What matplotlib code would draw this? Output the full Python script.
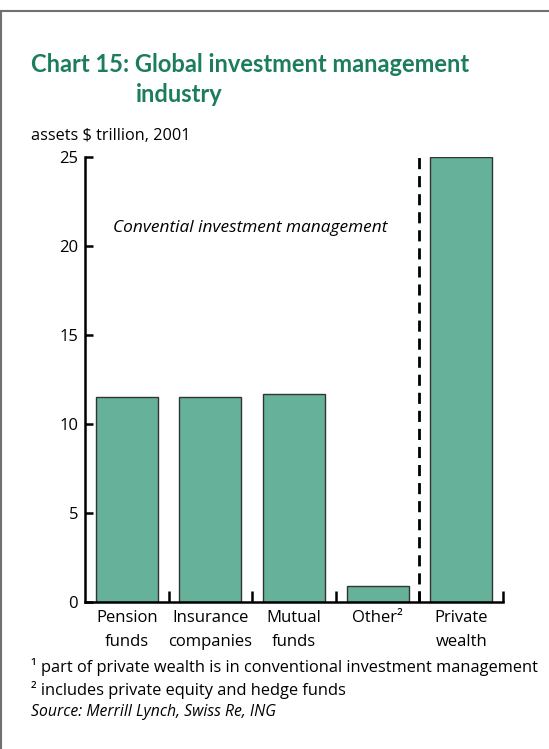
import numpy as np
import matplotlib
matplotlib.use("Agg")
import matplotlib.pyplot as plt
from matplotlib.lines import Line2D

# assets in $ trillion, 2001
categories = ["Pension\nfunds", "Insurance\ncompanies", "Mutual\nfunds", "Other²", "Private\nwealth"]
assets = [11.5, 11.5, 11.7, 0.9, 25.0]
yticks = [0, 5, 10, 15, 20, 25]

plt.rcParams['font.family'] = ['Open Sans', 'DejaVu Sans']

fig = plt.figure(figsize=(5.49, 7.49), dpi=100)
renderer = fig.canvas.get_renderer()


def fit_width(txt, px):
    # scale the font so the text spans about px pixels
    w = txt.get_window_extent(renderer).width
    txt.set_fontsize(txt.get_fontsize() * px / w)


# frame lines (top and left edge)
fig.add_artist(Line2D([0.002, 1.0], [1 - 11 / 749, 1 - 11 / 749], color='#707070', lw=1.5))
fig.add_artist(Line2D([0.002, 0.002], [0.0, 1 - 11 / 749], color='#707070', lw=1.5))

ax = fig.add_axes([85 / 549, 1 - 602 / 749, (503 - 85) / 549, (602 - 157) / 749])

x = np.arange(len(assets)) + 0.5
ax.bar(x, assets, width=0.74, color='#66b19a', edgecolor='#333333', linewidth=1.0, zorder=2)

# boundary between conventional management and private wealth
ax.plot([4, 4], [0, 25], color='black', lw=2, dashes=(4, 2.5), zorder=3)

ax.set_xlim(0, 5)
ax.set_ylim(0, 25)
for s in ['top', 'right']:
    ax.spines[s].set_visible(False)
for s in ['left', 'bottom']:
    ax.spines[s].set_linewidth(1.8)

ax.set_yticks(yticks)
ax.tick_params(axis='y', direction='in', length=6, width=1.8, labelsize=12, pad=5)

ax.set_xticks([1, 2, 3, 4, 5])
ax.set_xticklabels([])
ax.tick_params(axis='x', which='major', direction='in', length=8, width=1.8)
ax.set_xticks(x, minor=True)
ax.set_xticklabels(categories, minor=True, fontsize=12, linespacing=1.6)
ax.tick_params(axis='x', which='minor', length=0, pad=6)

note = ax.text(1.98, 21.0, "Convential investment management", style='italic',
               fontsize=12, ha='center', va='center')
fit_width(note, 274)

green = '#1b7d5a'
t1 = fig.text(31 / 549, 1 - 65 / 749, "Chart 15: Global investment management",
              fontsize=17, fontweight='bold', color=green, va='center', ha='left',
              family=['Lato', 'DejaVu Sans'])
fit_width(t1, 438)
fig.text(136 / 549, 1 - 95 / 749, "industry",
         fontsize=t1.get_fontsize(), fontweight='bold', color=green, va='center', ha='left',
         family=['Lato', 'DejaVu Sans'])
fig.text(31 / 549, 1 - 136 / 749, "assets $ trillion, 2001", fontsize=11.7, va='center')

f1 = fig.text(31 / 549, 1 - 667 / 749, "¹ part of private wealth is in conventional investment management",
              fontsize=11.5, va='center')
fit_width(f1, 509)
fig.text(31 / 549, 1 - 690 / 749, "² includes private equity and hedge funds",
         fontsize=f1.get_fontsize(), va='center')
fig.text(31 / 549, 1 - 712 / 749, "Source: Merrill Lynch, Swiss Re, ING",
         fontsize=11.3, style='italic', va='center')

fig.savefig("out.png", dpi=100)
